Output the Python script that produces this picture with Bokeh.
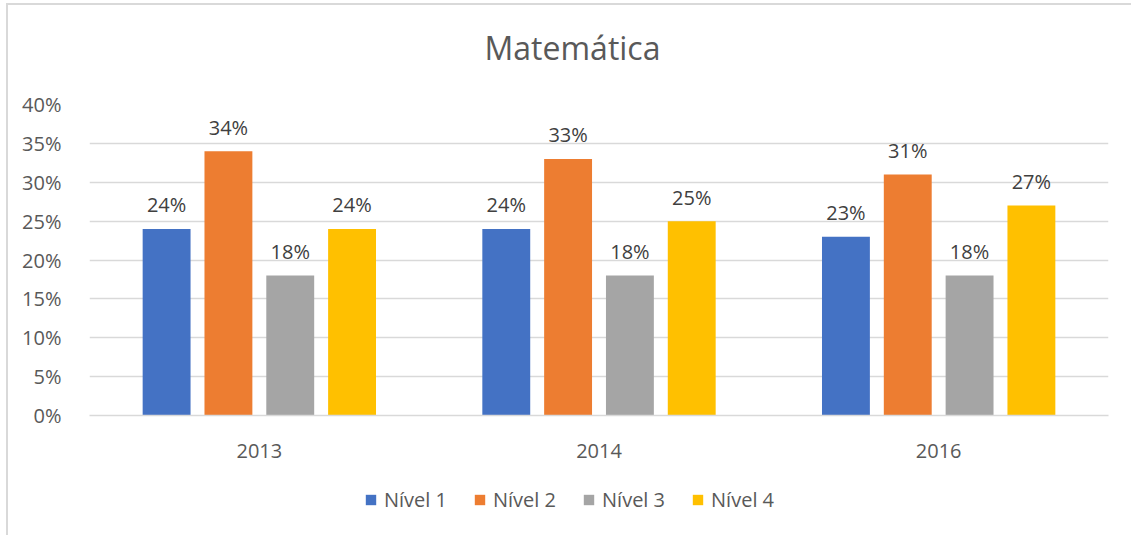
from bokeh.plotting import figure
from bokeh.layouts import column
from bokeh.models import (ColumnDataSource, FactorRange, Range1d, NumeralTickFormatter,
                          Legend, LegendItem, LabelSet, Div)
from bokeh.core.properties import value
from bokeh.transform import dodge
from bokeh.embed import file_html
from bokeh.resources import INLINE

years = ["2013", "2014", "2016"]
series = ["Nível 1", "Nível 2", "Nível 3", "Nível 4"]
nivel1 = [0.24, 0.24, 0.23]
nivel2 = [0.34, 0.33, 0.31]
nivel3 = [0.18, 0.18, 0.18]
nivel4 = [0.24, 0.25, 0.27]
colors = ["#4472C4", "#ED7D31", "#A5A5A5", "#FFC000"]
title_text = "Matemática"

FONT = "Open Sans"
TXT = "#595959"
FS = "20px"

cols = ["n1", "n2", "n3", "n4"]
data = {"year": years, "n1": nivel1, "n2": nivel2, "n3": nivel3, "n4": nivel4}
for c in cols:
    data[c + "_lbl"] = ["%d%%" % round(v * 100) for v in data[c]]
src = ColumnDataSource(data)

title = Div(text=title_text, width=1116, height=60, margin=0,
            styles={"font-family": "Open Sans", "font-size": "32px", "color": TXT,
                    "text-align": "center", "line-height": "44px", "padding-top": "21px",
                    "padding-left": "13px", "box-sizing": "border-box"})

p = figure(x_range=FactorRange(*years, range_padding=0), y_range=Range1d(0, 0.40),
           width=1123, height=415, output_backend="svg", toolbar_location=None,
           min_border_left=81, min_border_top=39, min_border_right=23, min_border_bottom=65)
p.outline_line_color = None

offsets = [-0.273, -0.091, 0.091, 0.273]
bw = 0.141
for c, off, col in zip(cols, offsets, colors):
    p.vbar(x=dodge("year", off, range=p.x_range), top=c, width=bw, source=src,
           fill_color=col, line_color=None)
    lbl = LabelSet(x=dodge("year", off, range=p.x_range), y=c, text=c + "_lbl", source=src,
                   text_align="center", text_baseline="middle", y_offset=24,
                   text_font=value(FONT), text_font_size=FS, text_color="#404040")
    p.add_layout(lbl)

p.yaxis.formatter = NumeralTickFormatter(format="0%")
p.yaxis.ticker = [0, 0.05, 0.10, 0.15, 0.20, 0.25, 0.30, 0.35, 0.40]
p.yaxis.axis_line_color = None
p.yaxis.major_tick_line_color = None
p.yaxis.minor_tick_line_color = None
p.yaxis.major_label_standoff = 22
for ax in (p.xaxis, p.yaxis):
    ax.major_label_text_font = FONT
    ax.major_label_text_font_size = FS
    ax.major_label_text_color = TXT
p.xaxis.axis_line_color = "#d9d9d9"
p.xaxis.axis_line_width = 1.5
p.xaxis.major_tick_line_color = None
p.xaxis.minor_tick_line_color = None
p.xaxis.major_label_standoff = 22

p.xgrid.grid_line_color = None
p.ygrid.grid_line_color = "#d9d9d9"
p.ygrid.grid_line_width = 1.5

# legend strip below the chart
lg = figure(width=1123, height=55, output_backend="svg", toolbar_location=None,
            x_axis_location=None, y_axis_location=None, min_border=0,
            x_range=Range1d(10, 11), y_range=Range1d(10, 11))
lg.outline_line_color = None
lg.grid.visible = False
items = []
for name, col in zip(series, colors):
    r = lg.vbar(x=[0], top=[0], width=1, fill_color=col, line_color=None)
    items.append(LegendItem(label=name, renderers=[r]))
legend = Legend(items=items, orientation="horizontal", location=(275, 22),
                glyph_width=13, glyph_height=13, label_standoff=7, spacing=26,
                label_text_font=FONT, label_text_font_size=FS, label_text_color=TXT,
                border_line_color=None, background_fill_alpha=0, padding=0, margin=0)
lg.add_layout(legend, "center")

layout = column(title, p, lg, spacing=0,
                styles={"border-left": "2px solid #d9d9d9", "border-top": "2px solid #d9d9d9",
                        "margin-left": "6px", "margin-top": "3px"})

open("out.html", "w").write(file_html(layout, INLINE))
